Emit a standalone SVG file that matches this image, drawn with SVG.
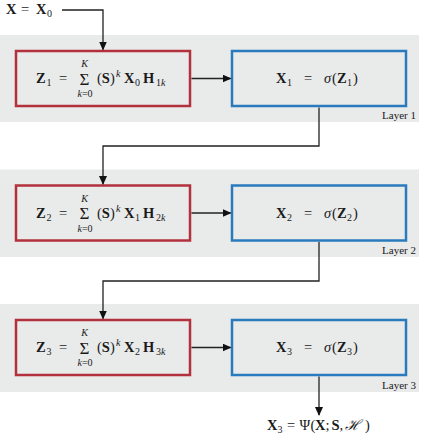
<svg xmlns="http://www.w3.org/2000/svg" width="422" height="439" viewBox="0 0 422 439">
<defs>
<style>
.band{fill:#e9eaea}
.red{fill:#e9eaea;stroke:#b2313d;stroke-width:2.5}
.blue{fill:#e9eaea;stroke:#2a7bbd;stroke-width:2.5}
text{font-family:"Liberation Serif","DejaVu Serif",serif;fill:#1a1a1a}
.m{font-size:14.5px}
.b{font-weight:bold}
.i{font-style:italic}
.s{font-size:10px}
.sig{font-size:17px}
.lab{font-size:11px;text-anchor:end}
.c{fill:none;stroke:#222;stroke-width:1.3}
</style>
<marker id="ah" markerUnits="userSpaceOnUse" markerWidth="9" markerHeight="8" refX="8" refY="4" orient="auto">
<path d="M0,0 L9,4 L0,8 z" fill="#111"/>
</marker>
</defs>

<g id="bands">
<rect class="band" x="0" y="35" width="419" height="87"/>
<rect class="band" x="0" y="169.5" width="419" height="87.5"/>
<rect class="band" x="0" y="304" width="419" height="88"/>
<text class="lab" x="416" y="119">Layer 1</text>
<text class="lab" x="416" y="254">Layer 2</text>
<text class="lab" x="416" y="389">Layer 3</text>
</g>

<g id="input">
<text class="m" y="14"><tspan x="6" class="b">X</tspan><tspan x="21">=</tspan><tspan x="36" class="b">X</tspan><tspan x="47" class="s" dy="3">0</tspan></text>
</g>

<g id="z1">
<rect class="red" x="16" y="51" width="174" height="55"/>
<text class="m" y="83"><tspan x="36" class="b">Z</tspan><tspan x="46.5" class="s" dy="3">1</tspan><tspan x="59" dy="-3">=</tspan></text>
<text class="sig" x="84.5" y="84.5" text-anchor="middle">Σ</text>
<text class="s i" x="84.5" y="67" text-anchor="middle">K</text>
<text class="s" x="85" y="97" text-anchor="middle"><tspan class="i">k</tspan>=0</text>
<text class="m" y="83"><tspan x="97">(</tspan><tspan class="b">S</tspan><tspan>)</tspan><tspan x="116" class="s i" dy="-6">k</tspan><tspan x="124" class="b" dy="6">X</tspan><tspan x="135" class="s" dy="3">0</tspan><tspan x="143" class="b" dy="-3">H</tspan><tspan x="156" class="s" dy="3">1<tspan class="i">k</tspan></tspan></text>
</g>

<g id="x1">
<rect class="blue" x="232" y="51" width="174" height="55"/>
<text class="m" y="83"><tspan x="276" class="b">X</tspan><tspan x="287" class="s" dy="3">1</tspan><tspan x="304" dy="-3">=</tspan><tspan x="324" class="i">σ</tspan><tspan x="332">(</tspan><tspan x="337" class="b">Z</tspan><tspan x="347" class="s" dy="3">1</tspan><tspan x="353" dy="-3">)</tspan></text>
</g>

<g id="z2">
<rect class="red" x="16" y="185.5" width="174" height="55"/>
<text class="m" y="217.5"><tspan x="36" class="b">Z</tspan><tspan x="46.5" class="s" dy="3">2</tspan><tspan x="59" dy="-3">=</tspan></text>
<text class="sig" x="84.5" y="219" text-anchor="middle">Σ</text>
<text class="s i" x="84.5" y="201.5" text-anchor="middle">K</text>
<text class="s" x="85" y="231.5" text-anchor="middle"><tspan class="i">k</tspan>=0</text>
<text class="m" y="217.5"><tspan x="97">(</tspan><tspan class="b">S</tspan><tspan>)</tspan><tspan x="116" class="s i" dy="-6">k</tspan><tspan x="124" class="b" dy="6">X</tspan><tspan x="135" class="s" dy="3">1</tspan><tspan x="143" class="b" dy="-3">H</tspan><tspan x="156" class="s" dy="3">2<tspan class="i">k</tspan></tspan></text>
</g>

<g id="x2">
<rect class="blue" x="232" y="185.5" width="174" height="55"/>
<text class="m" y="217.5"><tspan x="276" class="b">X</tspan><tspan x="287" class="s" dy="3">2</tspan><tspan x="304" dy="-3">=</tspan><tspan x="324" class="i">σ</tspan><tspan x="332">(</tspan><tspan x="337" class="b">Z</tspan><tspan x="347" class="s" dy="3">2</tspan><tspan x="353" dy="-3">)</tspan></text>
</g>

<g id="z3">
<rect class="red" x="16" y="320" width="174" height="55"/>
<text class="m" y="352"><tspan x="36" class="b">Z</tspan><tspan x="46.5" class="s" dy="3">3</tspan><tspan x="59" dy="-3">=</tspan></text>
<text class="sig" x="84.5" y="353.5" text-anchor="middle">Σ</text>
<text class="s i" x="84.5" y="336" text-anchor="middle">K</text>
<text class="s" x="85" y="366" text-anchor="middle"><tspan class="i">k</tspan>=0</text>
<text class="m" y="352"><tspan x="97">(</tspan><tspan class="b">S</tspan><tspan>)</tspan><tspan x="116" class="s i" dy="-6">k</tspan><tspan x="124" class="b" dy="6">X</tspan><tspan x="135" class="s" dy="3">2</tspan><tspan x="143" class="b" dy="-3">H</tspan><tspan x="156" class="s" dy="3">3<tspan class="i">k</tspan></tspan></text>
</g>

<g id="x3">
<rect class="blue" x="232" y="320" width="174" height="55"/>
<text class="m" y="352"><tspan x="276" class="b">X</tspan><tspan x="287" class="s" dy="3">3</tspan><tspan x="304" dy="-3">=</tspan><tspan x="324" class="i">σ</tspan><tspan x="332">(</tspan><tspan x="337" class="b">Z</tspan><tspan x="347" class="s" dy="3">3</tspan><tspan x="353" dy="-3">)</tspan></text>
</g>

<g id="output">
<text class="m" y="430"><tspan x="267" class="b">X</tspan><tspan x="277.5" class="s" dy="3">3</tspan><tspan x="287" dy="-3">=</tspan><tspan x="299.5">Ψ</tspan><tspan x="310.5">(</tspan><tspan x="315" class="b">X</tspan><tspan>;</tspan><tspan x="331.5" class="b">S</tspan><tspan>,</tspan><tspan x="345" class="i">ℋ</tspan><tspan x="365">)</tspan></text>
</g>

<g id="connectors">
<path class="c" d="M62,10 H103 V49.5" marker-end="url(#ah)"/>
<path class="c" d="M191.5,78.5 H230.5" marker-end="url(#ah)"/>
<path class="c" d="M319,107.5 V146 H103 V184" marker-end="url(#ah)"/>
<path class="c" d="M191.5,213 H230.5" marker-end="url(#ah)"/>
<path class="c" d="M319,242 V281 H103 V318.5" marker-end="url(#ah)"/>
<path class="c" d="M191.5,347.5 H230.5" marker-end="url(#ah)"/>
<path class="c" d="M319,376.5 V415" marker-end="url(#ah)"/>
</g>
</svg>
